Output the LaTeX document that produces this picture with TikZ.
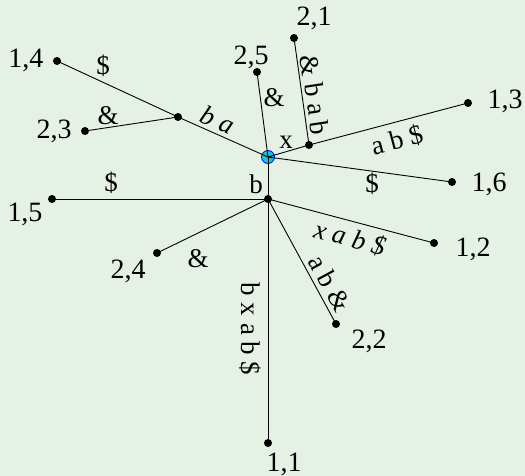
\documentclass[tikz,border=0pt]{standalone}
\usepackage{fontspec}
\setmainfont{Liberation Serif}
\usepackage{xcolor}
\usepackage{tikz}
\usetikzlibrary{positioning}

\definecolor{bgcol}{RGB}{230,241,229}
\definecolor{rootfill}{RGB}{20,200,205}

\begin{document}
\begin{tikzpicture}[x=1pt, y=-1pt,
  dot/.style={circle, fill=black, inner sep=0pt, minimum size=8pt},
  rootnode/.style={circle, fill=rootfill, draw=blue, line width=0.8pt,
                   inner sep=0pt, minimum size=13pt},
  leaflbl/.style={font=\fontsize{28}{30}\selectfont, inner sep=0pt},
  edgelbl/.style={font=\fontsize{27}{29}\selectfont, inner sep=0pt},
  edge/.style={line width=0.9pt},
]

  % === Background ===
  \useasboundingbox[fill=bgcol] (0,0) rectangle (525,476);

  % === Internal nodes ===
  \node[rootnode] (root) at (268,157) {};
  \node[dot] (nba) at (178,117) {};
  \node[dot] (nx)  at (309,145) {};
  \node[dot] (nb)  at (268,199) {};

  % === Leaves ===
  \node[dot] (p14) at (57,61)   {};
  \node[dot] (p23) at (85,131)  {};
  \node[dot] (p25) at (257,72)  {};
  \node[dot] (p21) at (294,38)  {};
  \node[dot] (p13) at (468,103) {};
  \node[dot] (p16) at (452,182) {};
  \node[dot] (p15) at (52,199)  {};
  \node[dot] (p24) at (157,253) {};
  \node[dot] (p12) at (434,243) {};
  \node[dot] (p22) at (336,324) {};
  \node[dot] (p11) at (268,443) {};

  % Leaf labels
  \node[leaflbl] (l14) at (26,60)   {1,4};
  \node[leaflbl] (l23) at (54,131)  {2,3};
  \node[leaflbl] (l25) at (251,57)  {2,5};
  \node[leaflbl] (l21) at (314,18)  {2,1};
  \node[leaflbl] (l13) at (505,101) {1,3};
  \node[leaflbl] (l16) at (489,184) {1,6};
  \node[leaflbl] (l15) at (25,214)  {1,5};
  \node[leaflbl] (l24) at (128,271) {2,4};
  \node[leaflbl] (l12) at (473,249) {1,2};
  \node[leaflbl] (l22) at (369,341) {2,2};
  \node[leaflbl] (l11) at (284,464) {1,1};

  % === Edges ===
  \draw[edge] (root.center) -- (nba.center);
  \draw[edge] (nba.center) -- (p14.center);
  \draw[edge] (nba.center) -- (p23.center);
  \draw[edge] (root.center) -- (p25.center);
  \draw[edge] (root.center) -- (nx.center);
  \draw[edge] (nx.center) -- (p21.center);
  \draw[edge] (nx.center) -- (p13.center);
  \draw[edge] (root.center) -- (p16.center);
  \draw[edge] (root.center) -- (nb.center);
  \draw[edge] (nb.center) -- (p15.center);
  \draw[edge] (nb.center) -- (p24.center);
  \draw[edge] (nb.center) -- (p12.center);
  \draw[edge] (nb.center) -- (p22.center);
  \draw[edge] (nb.center) -- (p11.center);

  % Edge labels
  \node[edgelbl, rotate=-24]   (e_ba)   at (218,120) {\itshape b a};
  \node[edgelbl]               (e_14)   at (103,66)  {\$};
  \node[edgelbl]               (e_23)   at (108,116) {\&};
  \node[edgelbl]               (e_25)   at (274,98)  {\&};
  \node[edgelbl]               (e_x)    at (286,142) {x};
  \node[edgelbl, rotate=-81.5] (e_21)   at (315,95)  {\& b a b};
  \node[edgelbl, rotate=15]    (e_13)   at (397,140) {a b \$};
  \node[edgelbl]               (e_16)   at (372,184) {\$};
  \node[edgelbl]               (e_b)    at (256,184) {b};
  \node[edgelbl]               (e_15)   at (111,183) {\$};
  \node[edgelbl]               (e_24)   at (198,259) {\&};
  \node[edgelbl, rotate=-14.8] (e_12)   at (350,238) {\itshape x a b \$};
  \node[edgelbl, rotate=-61.6] (e_22)   at (330,283) {a b \&};
  \node[edgelbl, rotate=-90]   (e_11)   at (250,329) {b x a b \$};

\end{tikzpicture}
\end{document}
